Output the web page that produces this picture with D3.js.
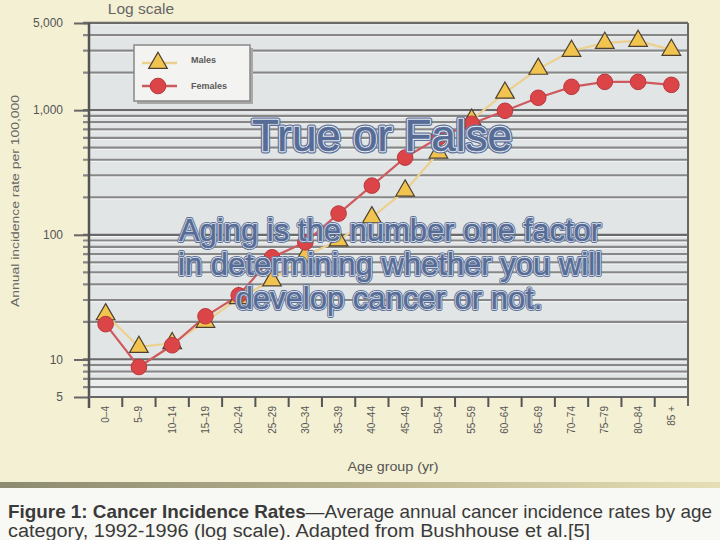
<!DOCTYPE html>
<html>
<head>
<meta charset="utf-8">
<script src="https://cdn.jsdelivr.net/npm/d3@7"></script>
<style>
html,body{margin:0;padding:0;background:#f4f0d3;}
svg{display:block;}
</style>
</head>
<body>
<svg id="chart" width="720" height="540"></svg>
<script>
// ---- data ----
const categories = ["0–4","5–9","10–14","15–19","20–24","25–29","30–34","35–39","40–44","45–49","50–54","55–59","60–64","65–69","70–74","75–79","80–84","85 +"];
const males   = [23, 12.6, 13.5, 20, 31, 43, 68, 90, 138, 226, 456, 837, 1377, 2143, 2985, 3459, 3589, 3041];
const females = [19.2, 8.7, 13, 22.2, 32.7, 66, 87, 148, 248, 416, 601, 778, 988, 1256, 1538, 1686, 1686, 1595];
const yTickValues = [5, 10, 100, 1000, 5000];
const yTickLabels = ["5", "10", "100", "1,000", "5,000"];
const seriesNames = ["Males", "Females"];

const svg = d3.select("#chart");
const W = 720, H = 540;
const pL = 89, pR = 688, pT = 23, pB = 397;

// background
svg.append("rect").attr("width", W).attr("height", H).attr("fill", "#f4f0d3");
const grad = svg.append("defs").append("linearGradient").attr("id","band").attr("x1","0").attr("x2","1");
grad.append("stop").attr("offset","0").attr("stop-color","#8c8a70");
grad.append("stop").attr("offset","0.5").attr("stop-color","#b8b28e");
grad.append("stop").attr("offset","1").attr("stop-color","#e6dfb6");
svg.append("rect").attr("x",0).attr("y",482).attr("width",W).attr("height",6).attr("fill","url(#band)");
svg.append("rect").attr("x",0).attr("y",488).attr("width",W).attr("height",52).attr("fill","#f8f8f4");

// scales
const x = d3.scaleBand().domain(categories).range([pL, pR]);
const y = d3.scaleLog().domain([5, 5000]).range([pB, pT]);

// plot background
svg.append("rect").attr("x", pL).attr("y", pT).attr("width", pR-pL).attr("height", pB-pT)
  .attr("fill", "#e2e5e6");
svg.append("rect").attr("x", pL).attr("y", pB-16).attr("width", pR-pL).attr("height", 16)
  .attr("fill", "#eceeee");

// gridlines
const gridVals = [];
[1,10,100,1000].forEach(d => { for (let k=1;k<=9;k++){ const v=k*d; if (v>5 && v<=5000) gridVals.push(v); } });
svg.append("g").selectAll("line").data(gridVals).join("line")
  .attr("x1", pL-6).attr("x2", pR)
  .attr("y1", d => y(d)).attr("y2", d => y(d))
  .attr("stroke", d => (d===10||d===100||d===1000||d===5000) ? "#6a6a6a" : "#878787")
  .attr("stroke-width", d => d===5000 ? 2.5 : 2.2);
svg.append("g").selectAll("line").data(gridVals).join("line")
  .attr("x1", pL).attr("x2", pR)
  .attr("y1", d => y(d)+1.7).attr("y2", d => y(d)+1.7)
  .attr("stroke", "#f2f3f3").attr("stroke-width", 1);

// right border
svg.append("line").attr("x1", pR).attr("x2", pR).attr("y1", pT).attr("y2", pB+9)
  .attr("stroke", "#666").attr("stroke-width", 2);

// y axis
const yAxis = d3.axisLeft(y).tickValues(yTickValues)
  .tickFormat(d => yTickLabels[yTickValues.indexOf(d)]).tickSize(15).tickPadding(9);
const gy = svg.append("g").attr("transform", `translate(${pL},0)`).call(yAxis);
gy.select(".domain").remove();
gy.selectAll(".tick line").attr("stroke", "#666").attr("stroke-width", 2);
gy.selectAll(".tick text").attr("font-family", "Liberation Sans, Arial, sans-serif")
  .attr("font-size", 12).attr("fill", "#555").attr("dx", -2);
svg.append("line").attr("x1", pL).attr("x2", pL).attr("y1", pT).attr("y2", pB+11)
  .attr("stroke", "#555").attr("stroke-width", 2.5);

// x axis
svg.append("line").attr("x1", pL).attr("x2", pR).attr("y1", pB).attr("y2", pB)
  .attr("stroke", "#666").attr("stroke-width", 2);
svg.append("g").selectAll("line").data(categories.slice(1)).join("line")
  .attr("x1", d => x(d)).attr("x2", d => x(d)).attr("y1", pB).attr("y2", pB+10)
  .attr("stroke", "#555").attr("stroke-width", 2);
svg.append("g").selectAll("text").data(categories).join("text")
  .attr("transform", d => `translate(${x(d)+x.bandwidth()/2},${pB+9}) rotate(-90)`)
  .attr("text-anchor", "end").attr("dy", "0.35em")
  .attr("font-family", "Liberation Sans, Arial, sans-serif").attr("font-size", 10).attr("fill", "#555")
  .text(d => d);

// axis titles
svg.append("text").attr("x", 141).attr("y", 14).attr("text-anchor", "middle")
  .attr("font-family", "Liberation Sans, Arial, sans-serif").attr("font-size", 15.5).attr("fill", "#666")
  .text("Log scale");
svg.append("text").attr("transform", "translate(19,201) rotate(-90)").attr("text-anchor", "middle")
  .attr("font-family", "Liberation Sans, Arial, sans-serif").attr("font-size", 11.5).attr("fill", "#666")
  .attr("textLength", 212).attr("lengthAdjust", "spacingAndGlyphs")
  .text("Annual incidence rate per 100,000");
svg.append("text").attr("x", 393).attr("y", 471).attr("text-anchor", "middle")
  .attr("font-family", "Liberation Sans, Arial, sans-serif").attr("font-size", 12).attr("fill", "#555")
  .attr("textLength", 91).attr("lengthAdjust", "spacingAndGlyphs")
  .text("Age group (yr)");

// series lines
const cx = d => x(d) + x.bandwidth()/2;
const line = d3.line().x((d,i) => cx(categories[i])).y(d => y(d));
svg.append("path").datum(males).attr("d", line).attr("fill", "none")
  .attr("stroke", "#ecd08e").attr("stroke-width", 2.2);
svg.append("path").datum(females).attr("d", line).attr("fill", "none")
  .attr("stroke", "#cf5a5e").attr("stroke-width", 2.2);

const tri = d3.symbol().type(d3.symbolTriangle).size(150);
svg.append("g").selectAll("path").data(males).join("path")
  .attr("d", tri).attr("transform", (d,i) => `translate(${cx(categories[i])},${y(d)})`)
  .attr("fill", "#f0c44e").attr("stroke", "#4d4030").attr("stroke-width", 1.2);
svg.append("g").selectAll("circle").data(females).join("circle")
  .attr("cx", (d,i) => cx(categories[i])).attr("cy", d => y(d)).attr("r", 7.8)
  .attr("fill", "#dc4548").attr("stroke", "#b7393d").attr("stroke-width", 1);

// legend
const lg = svg.append("g");
lg.append("rect").attr("x", 137).attr("y", 48).attr("width", 116).attr("height", 56).attr("fill", "#a8a8a8");
lg.append("rect").attr("x", 134).attr("y", 45).attr("width", 116).attr("height", 56)
  .attr("fill", "#f3f3f1").attr("stroke", "#888").attr("stroke-width", 1.5);
lg.append("line").attr("x1", 142).attr("x2", 177).attr("y1", 63).attr("y2", 63).attr("stroke", "#ecd08e").attr("stroke-width", 2.5);
lg.append("path").attr("d", tri).attr("transform", "translate(158,63)")
  .attr("fill", "#f0c44e").attr("stroke", "#4d4030").attr("stroke-width", 1.2);
lg.append("line").attr("x1", 142).attr("x2", 177).attr("y1", 86).attr("y2", 86).attr("stroke", "#cf5a5e").attr("stroke-width", 2.5);
lg.append("circle").attr("cx", 158).attr("cy", 86).attr("r", 7.8).attr("fill", "#dc4548").attr("stroke", "#b7393d");
lg.selectAll("text.lab").data(seriesNames).join("text").attr("class","lab")
  .attr("x", 191).attr("y", (d,i) => i===0 ? 63 : 89)
  .attr("font-family", "Liberation Sans, Arial, sans-serif").attr("font-size", 9).attr("font-weight", "bold")
  .attr("fill", "#5a5a5a").text(d => d);

// overlay text
function outlined(txt, xx, yy, size, sw) {
  const g = svg.append("g").attr("font-family", "Liberation Sans, Arial, sans-serif")
    .attr("font-size", size).attr("text-anchor", "middle");
  g.append("text").attr("x", xx).attr("y", yy).attr("fill", "#5a6f98").attr("stroke", "#5f7399")
    .attr("stroke-width", sw*2.1).attr("stroke-linejoin", "round").text(txt);
  g.append("text").attr("x", xx).attr("y", yy).attr("fill", "#5a6f98").attr("stroke", "#eef2f7")
    .attr("stroke-width", sw).attr("stroke-linejoin", "round").text(txt);
  g.append("text").attr("x", xx).attr("y", yy).attr("fill", "#566c96").attr("stroke", "#566c96")
    .attr("stroke-width", 0.6).text(txt);
}
outlined("True or False", 382, 151, 44, 2.4);
outlined("Aging is the number one factor", 390, 241, 31, 1.8);
outlined("in determining whether you will", 390, 275, 31, 1.8);
outlined("develop cancer or not.", 389, 309, 31, 1.8);

// caption
const cap = svg.append("text").attr("x", 8).attr("y", 518)
  .attr("font-family", "Liberation Sans Narrow, Arial Narrow, Liberation Sans, sans-serif")
  .attr("font-size", 19).attr("fill", "#3a3a3a")
  .attr("textLength", 704).attr("lengthAdjust", "spacingAndGlyphs");
cap.append("tspan").attr("font-weight", "bold").text("Figure 1: Cancer Incidence Rates");
cap.append("tspan").text("—Average annual cancer incidence rates by age");
svg.append("text").attr("x", 8).attr("y", 537)
  .attr("font-family", "Liberation Sans Narrow, Arial Narrow, Liberation Sans, sans-serif")
  .attr("font-size", 18).attr("fill", "#3a3a3a")
  .attr("textLength", 582).attr("lengthAdjust", "spacingAndGlyphs")
  .text("category, 1992-1996 (log scale). Adapted from Bushhouse et al.[5]");
</script>
</body>
</html>
